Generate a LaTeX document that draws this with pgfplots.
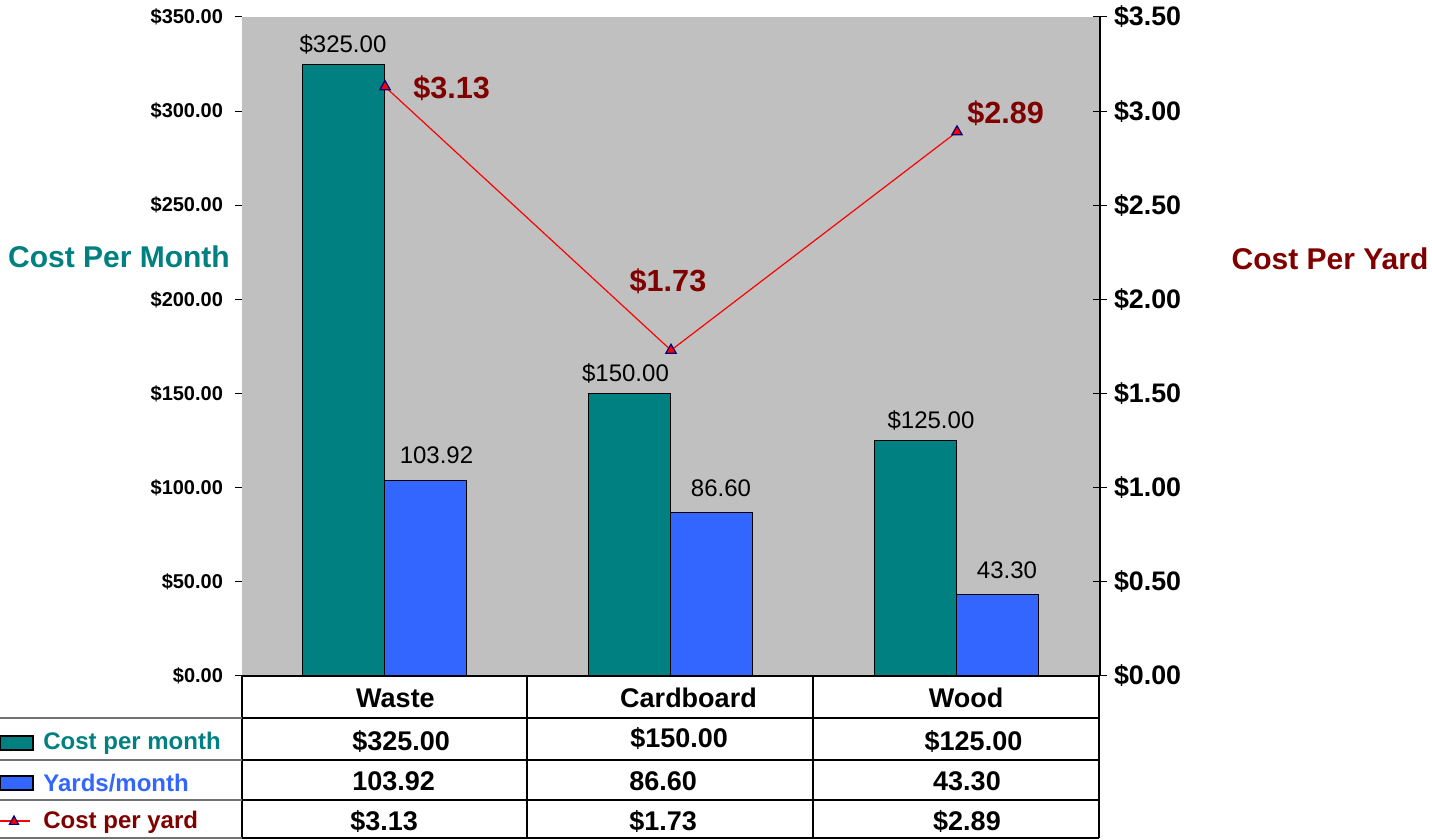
\documentclass[border=0pt]{standalone}
\usepackage{fontspec}
\setmainfont{Liberation Sans}
\usepackage{pgfplots}
\pgfplotsset{compat=1.18}
\definecolor{myteal}{HTML}{008080}
\definecolor{myblue}{HTML}{3366FF}
\definecolor{dred}{HTML}{800000}
\definecolor{plotgray}{HTML}{C0C0C0}
\definecolor{navy}{HTML}{000080}
\pgfplotsset{/pgf/number format/assume math mode=true}
\begin{document}
\begin{tikzpicture}
\begin{axis}[
  scale only axis, width=429pt, height=329.5pt,
  xmin=-0.5, xmax=2.5, ymin=0, ymax=350,
  axis y line*=left, axis x line=none,
  y axis line style={draw=none},
  ytick={0,50,100,150,200,250,300,350}, xtick=\empty,
  tick align=outside, major tick length=3.5pt,
  tick style={black, line width=0.5pt},
  yticklabel={\$\pgfmathprintnumber[fixed,fixed zerofill,precision=2]{\tick}},
  yticklabel style={font=\fontsize{10}{12}\selectfont\bfseries, xshift=-2.5pt},
  axis background/.style={fill=plotgray},
  clip=false,
]
\addplot[ybar, bar width=41pt, bar shift=-20.5pt, fill=myteal, draw=black, line width=0.5pt,
  visualization depends on={value \coordindex \as \idx},
  nodes near coords={\$\pgfmathprintnumber[fixed,fixed zerofill,precision=2]{\pgfplotspointmeta}},
  every node near coord/.append style={font=\fontsize{12}{14}\selectfont, text=black,
     yshift=1.5pt, xshift={{-21,-22.75,-13}[\idx]}}]
  coordinates {(0,325) (1,150) (2,125)};
\addplot[ybar, bar width=41pt, bar shift=20.5pt, fill=myblue, draw=black, line width=0.5pt,
  visualization depends on={value \coordindex \as \idx},
  nodes near coords={\pgfmathprintnumber[fixed,fixed zerofill,precision=2]{\pgfplotspointmeta}},
  every node near coord/.append style={font=\fontsize{12}{14}\selectfont, text=black,
     yshift=4.5pt, xshift={{25.75,25,25}[\idx]}}]
  coordinates {(0,103.92) (1,86.60) (2,43.30)};
\end{axis}
\begin{axis}[
  scale only axis, width=429pt, height=329.5pt,
  xmin=-0.5, xmax=2.5, ymin=0, ymax=3.5,
  axis y line*=right, axis x line=none,
  y axis line style={black, line width=0.6pt},
  ytick={0,0.5,1,1.5,2,2.5,3,3.5}, xtick=\empty,
  tick align=center, major tick length=7pt,
  tick style={black, line width=0.5pt},
  yticklabel={\$\pgfmathprintnumber[fixed,fixed zerofill,precision=2]{\tick}},
  yticklabel style={font=\fontsize{13.4}{16}\selectfont\bfseries},
  clip=false,
]
\addplot[red, line width=0.6pt, mark=triangle*, mark size=3pt,
  mark options={fill=red, draw=navy, line width=0.6pt, solid}]
  coordinates {(0,3.13) (1,1.73) (2,2.89)};
\node[anchor=west, inner sep=0, xshift=14pt, yshift=-1pt, text=dred, font=\fontsize{15.3}{18}\selectfont\bfseries] at (axis cs:0,3.13) {\$3.13};
\node[anchor=center, inner sep=0, xshift=-1.5pt, yshift=34.5pt, text=dred, font=\fontsize{15.3}{18}\selectfont\bfseries] at (axis cs:1,1.73) {\$1.73};
\node[anchor=west, inner sep=0, xshift=5pt, yshift=9.5pt, text=dred, font=\fontsize{15.3}{18}\selectfont\bfseries] at (axis cs:2,2.89) {\$2.89};
\end{axis}
% axis titles
\node[text=myteal, font=\fontsize{15}{18}\selectfont\bfseries] at (-61.5pt,209.5pt) {Cost Per Month};
\node[text=dred, font=\fontsize{15}{18}\selectfont\bfseries] at (544pt,208.5pt) {Cost Per Yard};
% data table
\draw[black, line width=0.6pt] (0,0) -- (429pt,0);
\foreach \x in {0,142.5,285.5,428.5} \draw[black, line width=0.6pt] (\x pt,0) -- (\x pt,-81pt);
\foreach \y in {-21,-42,-62,-81} {
  \draw[black!55, line width=0.9pt] (-121pt,\y pt) -- (0,\y pt);
  \draw[black, line width=0.6pt] (0,\y pt) -- (428.5pt,\y pt);
}
\begin{scope}[every node/.style={font=\fontsize{13.5}{16}\selectfont\bfseries, inner sep=0}]
\node at (76.75pt,-11pt) {Waste};
\node at (223.25pt,-11pt) {Cardboard};
\node at (362pt,-11pt) {Wood};
\node[anchor=west] at (55pt,-32.5pt) {\$325.00};
\node[anchor=west] at (194pt,-31pt) {\$150.00};
\node at (365.75pt,-32.5pt) {\$125.00};
\node[anchor=west] at (55pt,-52.5pt) {103.92};
\node[anchor=west] at (193.5pt,-52.5pt) {86.60};
\node at (362.5pt,-52.5pt) {43.30};
\node[anchor=west] at (54pt,-72.5pt) {\$3.13};
\node[anchor=west] at (193.5pt,-72.5pt) {\$1.73};
\node at (362.5pt,-72.5pt) {\$2.89};
\end{scope}
% legend keys and labels
\filldraw[fill=myteal, draw=black, line width=0.6pt] (-121pt,-30pt) rectangle (-104.5pt,-37pt);
\filldraw[fill=myblue, draw=black, line width=0.6pt] (-121pt,-50pt) rectangle (-104.5pt,-57pt);
\draw[red, line width=0.6pt] (-121pt,-72.5pt) -- (-106pt,-72.5pt);
\filldraw[fill=red, draw=navy, line width=0.6pt] (-114pt,-70pt) -- (-111.7pt,-74.2pt) -- (-116.3pt,-74.2pt) -- cycle;
\begin{scope}[every node/.style={font=\fontsize{12}{14}\selectfont\bfseries, inner sep=0, anchor=west}]
\node[text=myteal] at (-99.5pt,-33.5pt) {Cost per month};
\node[text=myblue] at (-99.5pt,-53.5pt) {Yards/month};
\node[text=dred] at (-99.5pt,-73pt) {Cost per yard};
\end{scope}
\pgfresetboundingbox
\path[use as bounding box] (-121pt,-82pt) rectangle (595pt,338pt);
\end{tikzpicture}
\end{document}
